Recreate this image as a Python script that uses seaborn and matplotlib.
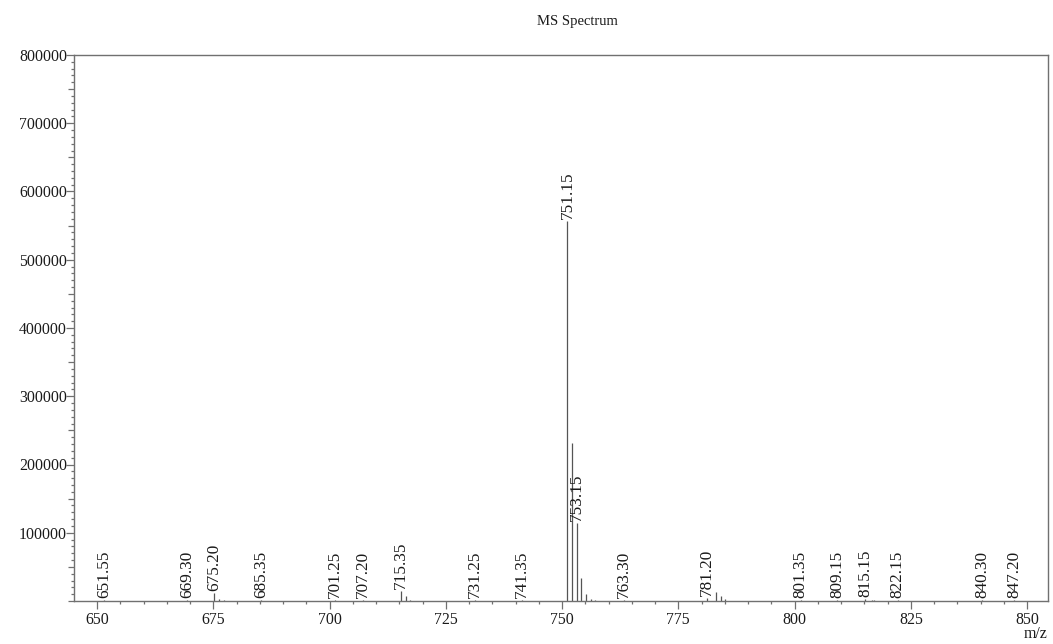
import numpy as np
import pandas as pd
import matplotlib
matplotlib.use("Agg")
import matplotlib.pyplot as plt
from matplotlib.ticker import MultipleLocator, FuncFormatter
import seaborn as sns

# Centroided peak list: m/z and intensity (counts)
mz = [651.55, 669.30, 675.20, 676.20, 677.20, 685.35, 701.25, 707.20,
      715.35, 716.35, 717.35, 731.25, 741.35,
      751.15, 752.15, 753.15, 754.15, 755.15, 756.15, 757.15,
      763.30, 781.20, 783.15, 784.10, 785.10,
      801.35, 809.15, 815.15, 816.60, 817.10, 822.15, 840.30, 847.20]
intensity = [1500, 2000, 11000, 3000, 1000, 1500, 1500, 1500,
             15000, 8000, 1500, 1500, 1500,
             557000, 231000, 114000, 33000, 10000, 2500, 1000,
             2000, 4000, 12500, 8000, 3500,
             1500, 1500, 2500, 1500, 1000, 1500, 1500, 1500]

# Peaks that carry an m/z annotation
labeled_mz = [651.55, 669.30, 675.20, 685.35, 701.25, 707.20, 715.35,
              731.25, 741.35, 751.15, 753.15, 763.30, 781.20, 801.35,
              809.15, 815.15, 822.15, 840.30, 847.20]

x_ticks = [650, 675, 700, 725, 750, 775, 800, 825, 850]
title = "MS Spectrum"
x_label = "m/z"

peaks = pd.DataFrame({"mz": mz, "intensity": intensity})

sns.set_theme(style="ticks")
plt.rcParams["font.family"] = ["Liberation Serif", "DejaVu Serif"]

fig = plt.figure(figsize=(10.53, 6.44), dpi=100)
ax = fig.add_axes([74 / 1053, 43 / 644, (1048 - 74) / 1053, (601 - 55) / 644])

line_col = "#555555"
axis_col = "#707070"
text_col = "#1a1a1a"

ax.vlines(peaks["mz"], 0, peaks["intensity"], color=line_col, linewidth=0.9)

for _, row in peaks[peaks["mz"].isin(labeled_mz)].iterrows():
    ax.annotate(f"{row['mz']:.2f}", xy=(row["mz"], row["intensity"]),
                xytext=(0, 1.5), textcoords="offset points",
                rotation=90, ha="center", va="bottom",
                fontsize=12.4, color=text_col)

ax.set_xlim(645.05, 854.5)
ax.set_ylim(0, 800000)

ax.xaxis.set_major_locator(plt.FixedLocator(x_ticks))
ax.xaxis.set_minor_locator(MultipleLocator(5))
ax.yaxis.set_major_locator(MultipleLocator(50000))
ax.yaxis.set_minor_locator(MultipleLocator(10000))
ax.yaxis.set_major_formatter(FuncFormatter(
    lambda v, p: f"{int(v)}" if v > 0 and int(v) % 100000 == 0 else ""))

for s in ax.spines.values():
    s.set_color(axis_col)
    s.set_linewidth(1.0)

ax.tick_params(axis="both", which="both", direction="out", color=axis_col,
               labelcolor=text_col, labelsize=11.4, width=0.9)
ax.tick_params(axis="x", which="major", length=5.8, pad=2.0)
ax.tick_params(axis="x", which="minor", length=2.5)
ax.tick_params(axis="y", which="major", length=4.0, pad=1.0)
ax.tick_params(axis="y", which="minor", length=2.2)

# Longer ticks at the labelled intensities
for tick, val in zip(ax.yaxis.get_major_ticks(), ax.yaxis.get_majorticklocs()):
    if val > 0 and int(round(val)) % 100000 == 0:
        tick.tick1line.set_markersize(5.8)

ax.grid(False)

fig.text(577 / 1053, 1 - 21 / 644, title, ha="center", va="center",
         fontsize=10.5, color=text_col)
fig.text(1048 / 1053, 1 - 634 / 644, x_label, ha="right", va="center",
         fontsize=11.4, color=text_col)

fig.savefig("out.png", dpi=100, facecolor="white")
